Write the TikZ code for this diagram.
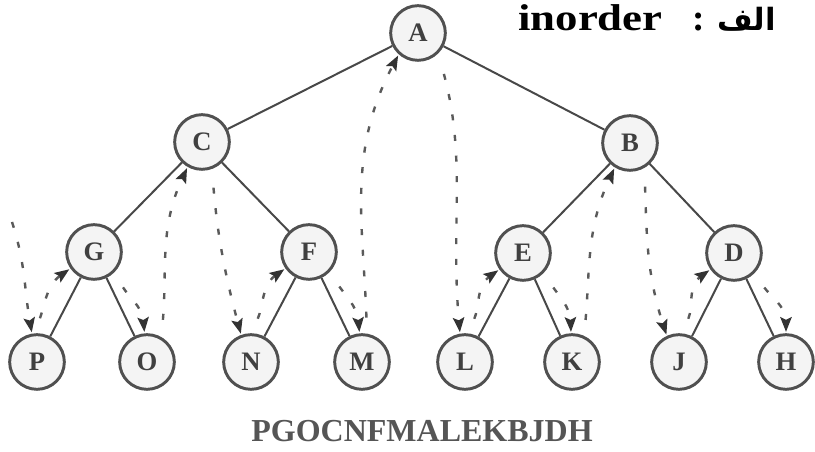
\documentclass[tikz,border=0pt]{standalone}
\usepackage{fontspec}
\setmainfont{Liberation Serif}
\newfontfamily\arabicfont[Script=Arabic]{DejaVu Sans}
\TeXXeTstate=1
\usetikzlibrary{arrows.meta}

\definecolor{ringgray}{HTML}{505050}
\definecolor{nodefill}{HTML}{F4F4F4}
\definecolor{labelgray}{HTML}{404040}
\definecolor{edgegray}{HTML}{484848}
\definecolor{threadgray}{HTML}{5A5A5A}
\definecolor{tipgray}{HTML}{333333}
\definecolor{captiongray}{HTML}{555555}

\begin{document}
\begin{tikzpicture}[x=0.75pt,y=0.75pt,
  vertex/.style={circle, draw=ringgray, line width=2.2pt, fill=nodefill,
    minimum size=41pt, inner sep=0pt,
    font=\fontsize{20}{20}\selectfont\bfseries, text=labelgray},
  branch/.style={draw=edgegray, line width=1.5pt},
  thread/.style={draw=threadgray, line width=1.8pt,
    dash pattern=on 4.5pt off 11pt,
    -{Stealth[length=11pt,width=8.5pt,inset=2pt,color=tipgray]},
    shorten >=1pt}
]
\useasboundingbox (0,0) rectangle (815,452);

% tree nodes
\node[vertex] (A) at (418,419) {A};
\node[vertex] (C) at (202,310) {C};
\node[vertex] (B) at (630,309) {B};
\node[vertex] (G) at (94,200) {G};
\node[vertex] (F) at (309,200) {F};
\node[vertex] (E) at (523,199) {E};
\node[vertex] (D) at (734,199) {D};
\node[vertex] (P) at (37,90) {P};
\node[vertex] (O) at (147,90) {O};
\node[vertex] (N) at (251,90) {N};
\node[vertex] (M) at (362,90) {M};
\node[vertex] (L) at (465,90) {L};
\node[vertex] (K) at (572,90) {K};
\node[vertex] (J) at (679,90) {J};
\node[vertex] (H) at (786,90) {H};

% tree edges
\draw[branch] (A) -- (C);
\draw[branch] (A) -- (B);
\draw[branch] (C) -- (G);
\draw[branch] (C) -- (F);
\draw[branch] (B) -- (E);
\draw[branch] (B) -- (D);
\draw[branch] (G) -- (P);
\draw[branch] (G) -- (O);
\draw[branch] (F) -- (N);
\draw[branch] (F) -- (M);
\draw[branch] (E) -- (L);
\draw[branch] (E) -- (K);
\draw[branch] (D) -- (J);
\draw[branch] (D) -- (H);

% in-order thread
\coordinate (entry) at (12,230);
\draw[thread] (entry) to[out=-72,in=100] (P.100);
\draw[thread, shorten <=12pt] (P.95) to[out=70,in=-145] (G.215);
\draw[thread, shorten <=13pt] (G.-45) to[out=-60,in=95] (O.95);
\draw[thread, shorten <=13pt] (O.60) to[out=85,in=-115] (C.240);
\draw[thread, shorten <=14pt] (C.-70) to[out=-85,in=105] (N.110);
\draw[thread, shorten <=12pt] (N.90) to[out=65,in=-145] (F.215);
\draw[thread, shorten <=13pt] (F.-45) to[out=-55,in=95] (M.95);
\draw[thread, shorten <=12pt] (M.80) to[out=92,in=-118] (A.228);
\draw[thread, shorten <=16pt] (A.-45) to[out=-75,in=95] (L.100);
\draw[thread, shorten <=12pt] (L.85) to[out=65,in=-145] (E.215);
\draw[thread, shorten <=13pt] (E.-45) to[out=-55,in=92] (K.92);
\draw[thread, shorten <=12pt] (K.65) to[out=85,in=-115] (B.238);
\draw[thread, shorten <=14pt] (B.-60) to[out=-88,in=108] (J.115);
\draw[thread, shorten <=12pt] (J.85) to[out=65,in=-145] (D.215);
\draw[thread, shorten <=13pt] (D.-45) to[out=-55,in=90] (H.90);

% heading
\node[anchor=base west, inner sep=0pt, font=\fontsize{28}{28}\selectfont\bfseries]
  (heading) at (518,421) {\scalebox{1.2}[1]{inorder}};
\node[anchor=base, inner sep=0pt, font=\fontsize{28}{28}\selectfont\bfseries]
  (colon) at (699,421) {:};
\node[anchor=base east, inner sep=0pt, font=\fontsize{23}{23}\selectfont]
  (alef) at (776,421) {\arabicfont\bfseries\beginR الف\endR};

% traversal result
\node[anchor=base, inner sep=0pt, text=captiongray,
  font=\fontsize{24}{24}\selectfont\bfseries]
  (result) at (422,10) {PGOCNFMALEKBJDH};
\end{tikzpicture}
\end{document}
